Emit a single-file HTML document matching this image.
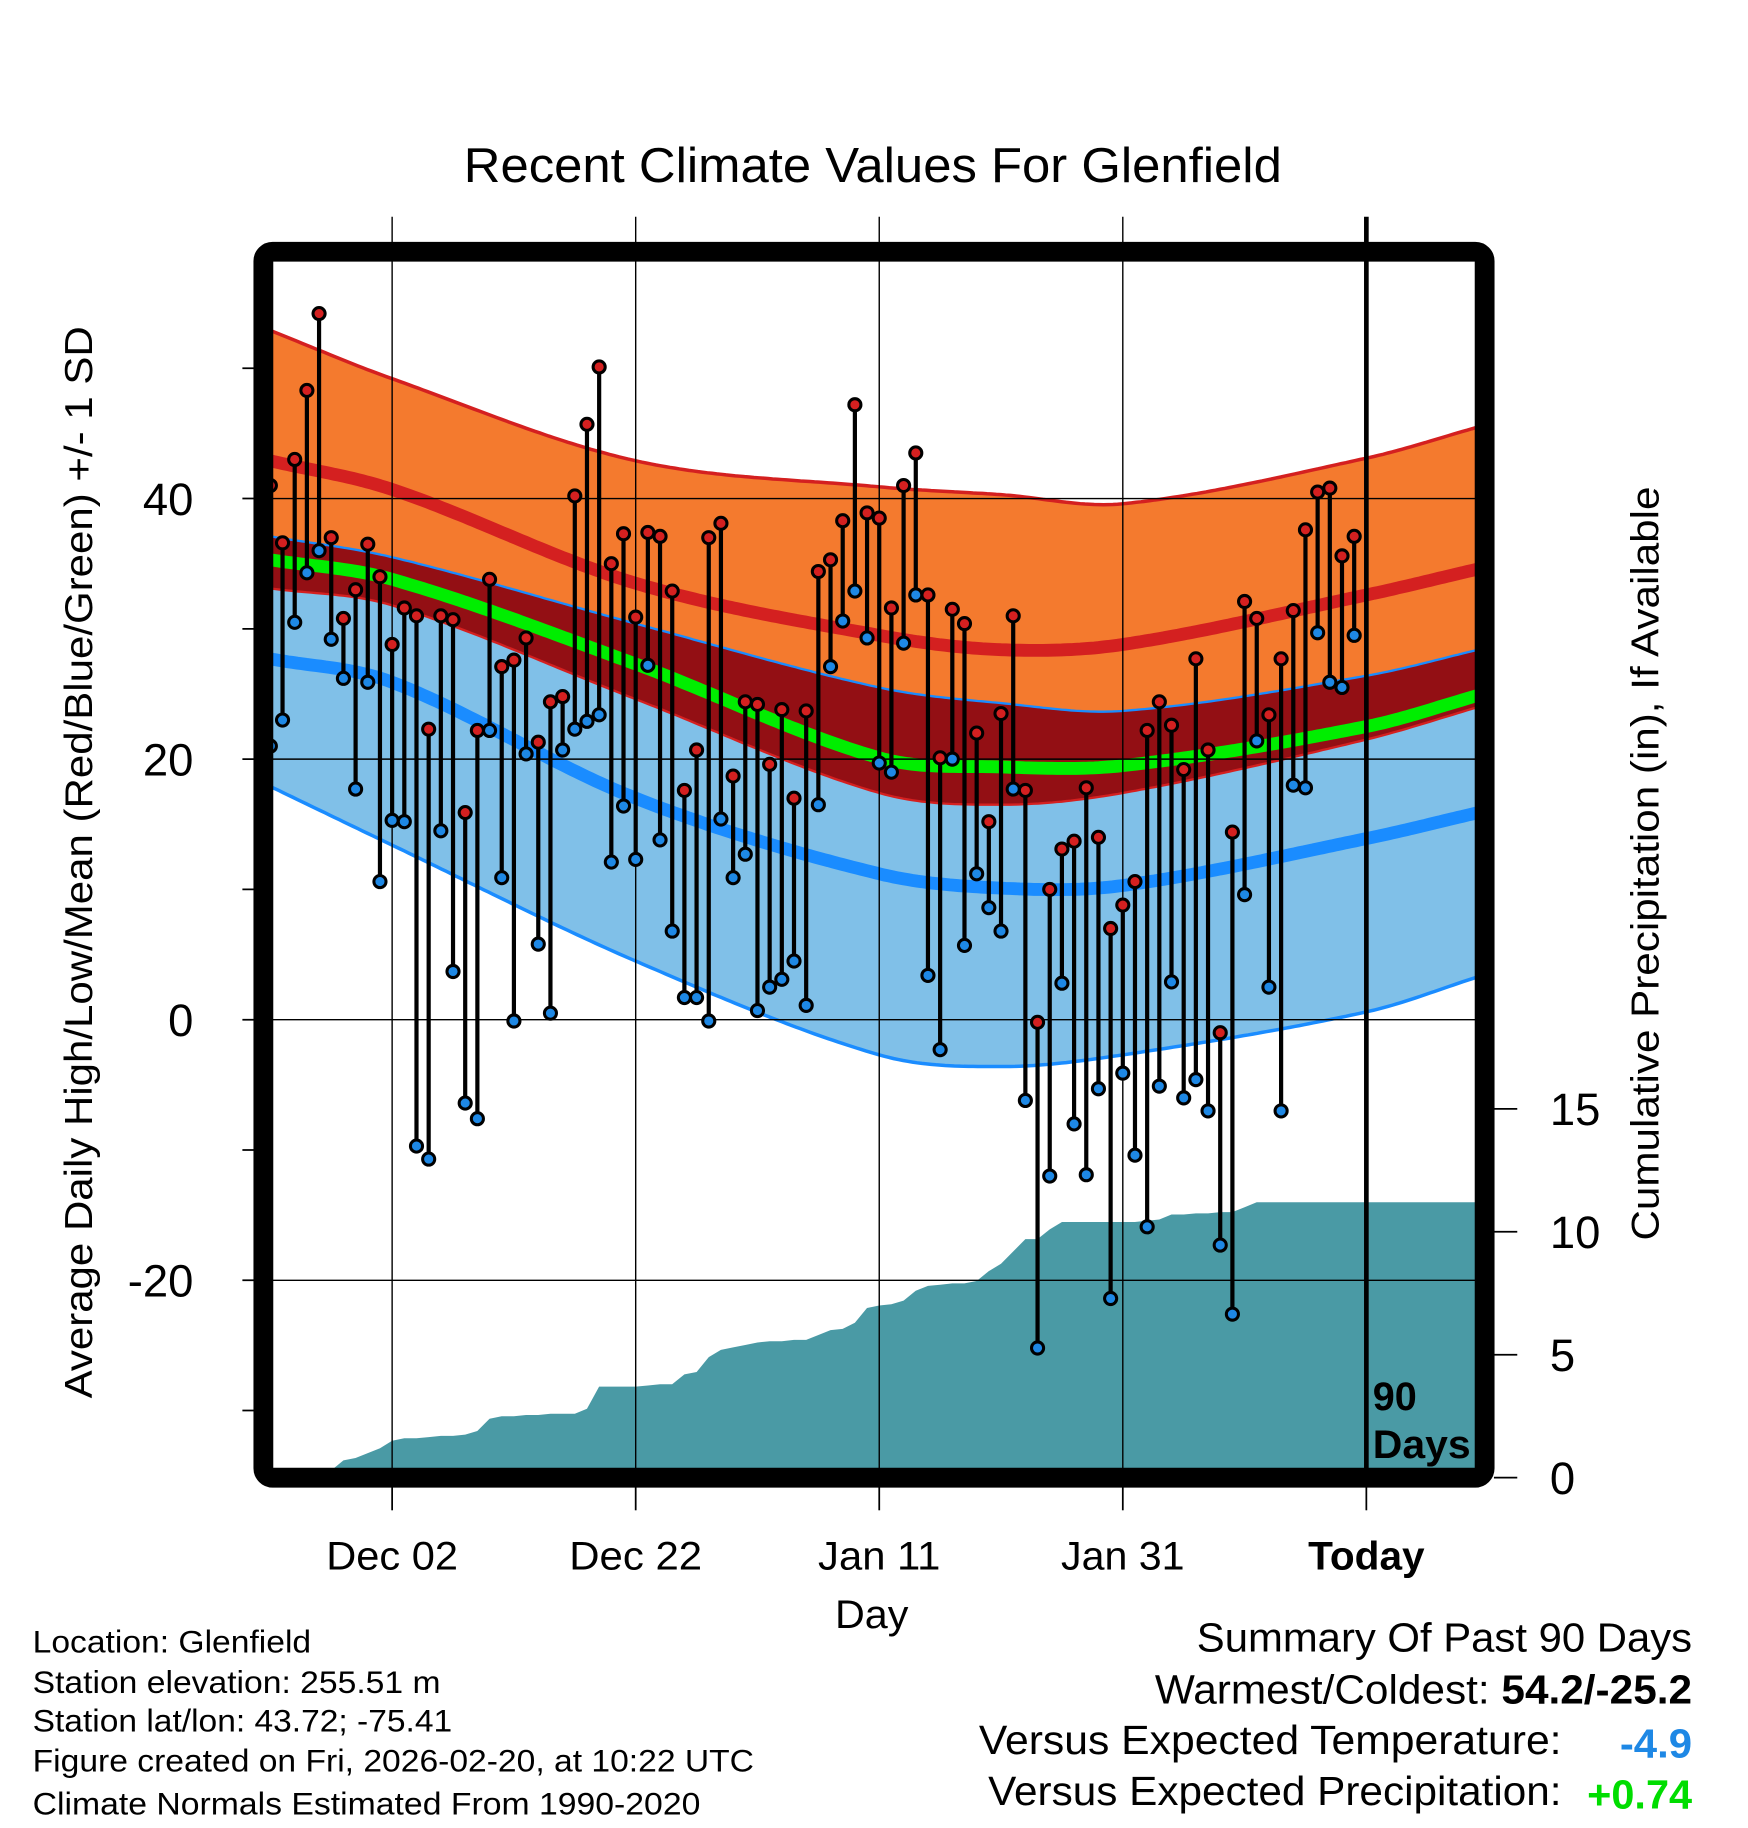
<!DOCTYPE html>
<html><head><meta charset="utf-8"><style>
html,body{margin:0;padding:0;background:#fff;}
svg{display:block;font-family:"Liberation Sans",sans-serif;}
</style></head><body>
<svg id="chart" width="1748" height="1828" viewBox="0 0 1500 1568.6" xmlns="http://www.w3.org/2000/svg">
<text x="749" y="156" font-size="42" text-anchor="middle" textLength="702" lengthAdjust="spacingAndGlyphs">Recent Climate Values For Glenfield</text>
<g id="bands"></g>
<g id="precip"></g>
<g id="grid"></g>
<g id="marks"></g>
<rect x="226" y="216" width="1048" height="1052" rx="8" fill="none" stroke="#000" stroke-width="17"/>
<g id="axes"></g>
<text transform="translate(79,740) rotate(-90)" font-size="33" text-anchor="middle" textLength="920" lengthAdjust="spacingAndGlyphs">Average Daily High/Low/Mean (Red/Blue/Green) +/- 1 SD</text>
<text transform="translate(1423,741) rotate(-90)" font-size="33" text-anchor="middle" textLength="647" lengthAdjust="spacingAndGlyphs">Cumulative Precipitation (in), If Available</text>
<text x="748" y="1397" font-size="34" text-anchor="middle" textLength="63" lengthAdjust="spacingAndGlyphs">Day</text>
<text x="1178" y="1210" font-size="34" font-weight="bold">90</text>
<text x="1178" y="1251" font-size="34" font-weight="bold" textLength="84" lengthAdjust="spacingAndGlyphs">Days</text>
<g font-size="27">
<text x="28" y="1418" textLength="239" lengthAdjust="spacingAndGlyphs">Location: Glenfield</text>
<text x="28" y="1453" textLength="350" lengthAdjust="spacingAndGlyphs">Station elevation: 255.51 m</text>
<text x="28" y="1486" textLength="360" lengthAdjust="spacingAndGlyphs">Station lat/lon: 43.72; -75.41</text>
<text x="28" y="1520" textLength="619" lengthAdjust="spacingAndGlyphs">Figure created on Fri, 2026-02-20, at 10:22 UTC</text>
<text x="28" y="1557" textLength="573" lengthAdjust="spacingAndGlyphs">Climate Normals Estimated From 1990-2020</text>
</g>
<g font-size="35" text-anchor="end">
<text x="1452" y="1417" textLength="425" lengthAdjust="spacingAndGlyphs">Summary Of Past 90 Days</text>
<text x="1452" y="1462" textLength="461" lengthAdjust="spacingAndGlyphs">Warmest/Coldest: <tspan font-weight="bold">54.2/-25.2</tspan></text>
<text x="1340" y="1505" textLength="500" lengthAdjust="spacingAndGlyphs">Versus Expected Temperature:</text>
<text x="1452" y="1508" font-weight="bold" fill="#1e88e5" textLength="62" lengthAdjust="spacingAndGlyphs">-4.9</text>
<text x="1340" y="1549" textLength="492" lengthAdjust="spacingAndGlyphs">Versus Expected Precipitation:</text>
<text x="1452" y="1552" font-weight="bold" fill="#00dd00" textLength="90" lengthAdjust="spacingAndGlyphs">+0.74</text>
</g>
</svg>
<script>
const normDays=[0,10,30,50,60,70,90,99.2];
const highPlus=[52.9,49.2,42.9,40.9,40.3,39.6,43.1,45.5];
const highMean=[42.9,40.7,33.5,29.5,28.4,28.8,32.6,34.6];
const lowPlus=[37.1,35.5,30.4,25.5,24.3,23.7,26.4,28.4];
const meanT=[35.3,33.8,27.3,20.1,19.4,19.5,22.5,24.9];
const highMinus=[33.1,31.8,24.6,17.4,16.5,17.4,21.5,24.0];
const lowMean=[27.7,25.9,17.0,11.2,10.1,10.3,13.9,15.9];
const lowMinus=[17.9,13.4,4.5,-2.7,-3.6,-2.7,0.6,3.3];
const highs=[41,36.6,43,48.3,54.2,37,30.8,33,36.5,34,28.8,31.6,31,22.3,31,30.7,15.9,22.2,33.8,27.1,27.6,29.3,21.3,24.4,24.8,40.2,45.7,50.1,35,37.3,30.9,37.4,37.1,32.9,17.6,20.7,37,38.1,18.7,24.4,24.2,19.6,23.8,17,23.7,34.4,35.3,38.3,47.2,38.9,38.5,31.6,41,43.5,32.6,20.1,31.5,30.4,22,15.2,23.5,31,17.6,-0.2,10,13.1,13.7,17.8,14,7,8.8,10.6,22.2,24.4,22.6,19.2,27.7,20.7,-1,14.4,32.1,30.8,23.4,27.7,31.4,37.6,40.5,40.8,35.6,37.1];
const lows=[21,23,30.5,34.3,36,29.2,26.2,17.7,25.9,10.6,15.3,15.2,-9.7,-10.7,14.5,3.7,-6.4,-7.6,22.2,10.9,-0.1,20.4,5.8,0.5,20.7,22.3,22.9,23.4,12.1,16.4,12.3,27.2,13.8,6.8,1.7,1.7,-0.1,15.4,10.9,12.7,0.7,2.5,3.1,4.5,1.1,16.5,27.1,30.6,32.9,29.3,19.7,19,28.9,32.6,3.4,-2.3,20,5.7,11.2,8.6,6.8,17.7,-6.2,-25.2,-12,2.8,-8,-11.9,-5.3,-21.4,-4.1,-10.4,-15.9,-5.1,2.9,-6,-4.6,-7,-17.3,-22.6,9.6,21.4,2.5,-7,18,17.8,29.7,25.9,25.5,29.5];
const precip=[0,0,0,0,0,0.3,0.7,0.8,1.0,1.2,1.5,1.6,1.6,1.65,1.7,1.7,1.75,1.9,2.4,2.5,2.5,2.55,2.55,2.6,2.6,2.6,2.8,3.7,3.7,3.7,3.7,3.75,3.8,3.8,4.2,4.3,4.9,5.2,5.3,5.4,5.5,5.55,5.55,5.6,5.6,5.8,6.0,6.05,6.3,6.9,7.0,7.05,7.2,7.6,7.8,7.85,7.9,7.9,8.0,8.4,8.7,9.2,9.7,9.7,10.1,10.4,10.4,10.4,10.4,10.4,10.4,10.4,10.45,10.5,10.7,10.7,10.75,10.75,10.8,10.8,11.0,11.2,11.2,11.2,11.2,11.2,11.2,11.2,11.2,11.2];
const yTicks=[40,20,0,-20];
const yMinor=[50,30,10,-10,-30];
const pTicks=[0,5,10,15];
const xTickDays=[10,30,50,70,90];
const xTickLabels=["Dec 02","Dec 22","Jan 11","Jan 31","Today"];
const xTickWidths=[113,114,105,106,100];

const NS="http://www.w3.org/2000/svg";
const X0=232,DX=10.45,L=231,R=1268,T=222,B=1260;
const xs=d=>X0+DX*d;
const yt=t=>875-11.18*t;
const yp=p=>1268-21.1*p;
function mk(tag,attrs,parent){const e=document.createElementNS(NS,tag);for(const k in attrs)e.setAttribute(k,attrs[k]);parent.appendChild(e);return e;}
function interp(arr,d){
  const n=normDays.length;
  let i=0;while(i<n-2&&d>normDays[i+1])i++;
  const h=normDays[i+1]-normDays[i];
  const slope=k=>{
    if(k==0)return (arr[1]-arr[0])/(normDays[1]-normDays[0]);
    if(k==n-1)return (arr[n-1]-arr[n-2])/(normDays[n-1]-normDays[n-2]);
    return (arr[k+1]-arr[k-1])/(normDays[k+1]-normDays[k-1]);
  };
  const m0=slope(i)*h,m1=slope(i+1)*h,u=(d-normDays[i])/h;
  const u2=u*u,u3=u2*u;
  return (2*u3-3*u2+1)*arr[i]+(u3-2*u2+u)*m0+(-2*u3+3*u2)*arr[i+1]+(u3-u2)*m1;
}
const sd=[];for(let x=L;x<=R;x+=4)sd.push(x);if(sd[sd.length-1]!==R)sd.push(R);
function curve(arr){return sd.map(x=>[x,yt(interp(arr,(x-X0)/DX))]);}
function pts(c){return c.map(p=>p[0].toFixed(1)+","+p[1].toFixed(1)).join(" ");}
const bands=document.getElementById('bands');
function band(a,b,fill,name){const e=mk('polygon',{points:pts(curve(a))+" "+pts(curve(b).reverse()),fill:fill},bands);

}
function line(a,color,w,name){const e=mk('polyline',{points:pts(curve(a)),fill:'none',stroke:color,'stroke-width':w},bands);

}
band(highPlus,lowPlus,'#f47a2e','high-sd-band');
band(lowPlus,highMinus,'#930f14','overlap-band');
band(highMinus,lowMinus,'#80c0e8','low-sd-band');
line(highPlus,'#d42020',3,'high-plus-line');
line(lowPlus,'#1a8cff',2,'low-plus-line');
line(highMinus,'#d42020',2,'high-minus-line');
line(lowMinus,'#1a8cff',3,'low-minus-line');
line(highMean,'#d42020',11,'mean-high-line');
line(meanT,'#00ee00',11,'mean-line');
line(lowMean,'#1a8cff',11,'mean-low-line');

const pg=document.getElementById('precip');
let pp=`${L},${B} `;
precip.forEach((v,i)=>{pp+=`${xs(i).toFixed(1)},${yp(v).toFixed(1)} `;});
pp+=`${R},${yp(precip[precip.length-1]).toFixed(1)} ${R},${B}`;
const pa=mk('polygon',{points:pp,fill:'#4a9aa5'},pg);



const grid=document.getElementById('grid');
yTicks.forEach(t=>{const e=mk('line',{x1:L,x2:R,y1:yt(t),y2:yt(t),stroke:'#000','stroke-width':1.2},grid);

});
xTickDays.forEach((d,i)=>{const e=mk('line',{x1:xs(d),x2:xs(d),y1:186,y2:B,stroke:'#000','stroke-width':i==4?4:1.2},grid);

});

const marks=document.getElementById('marks');
highs.forEach((h,i)=>{
  const x=xs(i);
  const s=mk('line',{x1:x,x2:x,y1:yt(h),y2:yt(lows[i]),stroke:'#000','stroke-width':3.6},marks);
  
  
});
highs.forEach((h,i)=>{
  const x=xs(i);
  const a=mk('circle',{cx:x,cy:yt(h),r:5.2,fill:'#d42020',stroke:'#000','stroke-width':2.6},marks);
  
  
  const b=mk('circle',{cx:x,cy:yt(lows[i]),r:5.2,fill:'#1e88e5',stroke:'#000','stroke-width':2.6},marks);
  
  
});

const axes=document.getElementById('axes');
yTicks.forEach(t=>{
  const tk=mk('line',{x1:208,x2:222,y1:yt(t),y2:yt(t),stroke:'#000','stroke-width':1.5},axes);
  
  
  const tx=mk('text',{x:166,y:yt(t)+14,'font-size':39,'text-anchor':'end'},axes);tx.textContent=t;
  
  
});
yMinor.forEach(t=>{const tk=mk('line',{x1:208,x2:222,y1:yt(t),y2:yt(t),stroke:'#000','stroke-width':1.5},axes);
  
  });
pTicks.forEach(p=>{
  const tk=mk('line',{x1:1282,x2:1302,y1:yp(p),y2:yp(p),stroke:'#000','stroke-width':1.5},axes);
  
  
  const tx=mk('text',{x:1330,y:yp(p)+14,'font-size':39},axes);tx.textContent=p;
  
  
});
xTickDays.forEach((d,i)=>{
  const tk=mk('line',{x1:xs(d),x2:xs(d),y1:1276,y2:1296,stroke:'#000','stroke-width':1.5},axes);
  
  
  const tx=mk('text',{x:xs(d),y:1347,'font-size':34,'text-anchor':'middle',textLength:xTickWidths[i],lengthAdjust:'spacingAndGlyphs'},axes);tx.textContent=xTickLabels[i];
  if(i==4)tx.setAttribute('font-weight','bold');
  
  
});
</script>
</body></html>
